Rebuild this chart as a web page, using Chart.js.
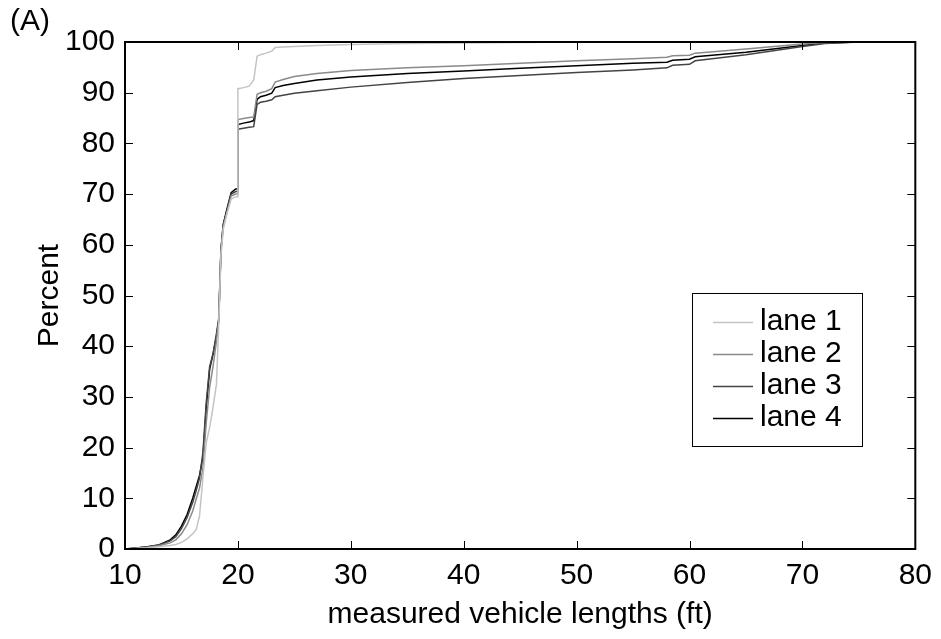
<!DOCTYPE html>
<html>
<head>
<meta charset="utf-8">
<script src="https://cdn.jsdelivr.net/npm/chart.js@4/dist/chart.umd.min.js"></script>
<style>
html,body{margin:0;padding:0;background:#fff;}
#c{display:block;}
</style>
</head>
<body>
<canvas id="c" width="941" height="639"></canvas>
<script>
// measured vehicle length grid (ft)
const lengths = [10, 11, 12, 13, 14, 14.5, 15, 15.5, 16, 16.3, 16.6, 16.9, 17.2, 17.5, 17.8, 18.1, 18.3, 18.5, 18.7, 19.0, 19.4, 19.8, 20.0, 20.0, 20.5, 21.0, 21.4, 21.7, 22.0, 22.5, 23.0, 23.3, 24, 25, 27, 30, 35, 40, 45, 50, 55, 58, 58.5, 60, 60.5, 65, 70, 72, 75, 80];
// cumulative percent per lane
const lane1 = [0, 0.1, 0.25, 0.45, 0.7, 0.9, 1.3, 2.0, 3.0, 3.8, 6.5, 14, 21, 24, 28, 32.5, 44, 58, 63, 66, 69, 69.5, 69.5, 90.8, 91.0, 91.3, 92.5, 97.2, 97.5, 97.8, 98.2, 98.9, 99.0, 99.1, 99.3, 99.5, 99.7, 99.8, 99.9, 100, 100, 100, 100, 100, 100, 100, 100, 100, 100, 100];
const lane2 = [0, 0.15, 0.35, 0.65, 1.2, 1.8, 3.0, 4.8, 7.5, 9.8, 12, 16, 25, 32, 36, 41, 45, 58.5, 63.5, 66, 69.6, 70, 70, 84.7, 84.9, 85.1, 85.2, 89.7, 90.0, 90.3, 90.8, 92.1, 92.6, 93.2, 93.8, 94.4, 94.9, 95.3, 95.8, 96.3, 96.7, 97.0, 97.3, 97.4, 97.8, 98.6, 99.6, 99.9, 100, 100];
const lane3 = [0, 0.2, 0.45, 0.8, 1.6, 2.4, 4.0, 6.2, 9.2, 11.5, 14, 19, 29, 36, 38.5, 42.5, 45.5, 59, 64, 66.5, 70, 70.5, 70.5, 82.8, 83.0, 83.2, 83.3, 87.7, 88.1, 88.3, 88.6, 89.2, 89.5, 89.9, 90.4, 91.1, 92.0, 92.8, 93.4, 94.0, 94.5, 94.9, 95.4, 95.6, 96.3, 97.5, 99.1, 99.7, 100, 100];
const lane4 = [0, 0.2, 0.45, 0.8, 1.8, 2.8, 4.5, 6.8, 10, 12.3, 14.5, 18, 28, 35.5, 38.5, 42, 45, 59, 64, 66.8, 70.3, 71, 71, 83.7, 84.0, 84.2, 84.5, 88.7, 89.2, 89.5, 89.9, 91.0, 91.4, 91.8, 92.5, 93.1, 93.8, 94.3, 94.8, 95.3, 95.8, 96.0, 96.4, 96.6, 97.1, 98.0, 99.3, 99.8, 100, 100];
const laneNames = ['lane 1', 'lane 2', 'lane 3', 'lane 4'];
const xTicks = [10, 20, 30, 40, 50, 60, 70, 80];
const yTicks = [0, 10, 20, 30, 40, 50, 60, 70, 80, 90, 100];
const xTitle = 'measured vehicle lengths (ft)';
const yTitle = 'Percent';
const panelLabel = '(A)';

const laneColors = ['#c4c4c4', '#8a8a8a', '#444444', '#000000'];
const FONT = '"Liberation Sans", Arial, Helvetica, sans-serif';
const FS = 30;

const series = [lane1, lane2, lane3, lane4];
const datasets = series.map((vals, i) => ({
  label: laneNames[i],
  data: vals.map((v, k) => ({x: lengths[k], y: v})),
  borderColor: laneColors[i],
  borderWidth: 1.5,
  pointRadius: 0,
  tension: 0,
  fill: false
}));

const decor = {
  id: 'decor',
  afterDraw(chart) {
    const {ctx, chartArea: {left, right, top, bottom}, scales: {x, y}} = chart;
    ctx.save();
    ctx.strokeStyle = '#000';
    ctx.lineWidth = 1;
    const TL = 8;
    ctx.beginPath();
    xTicks.forEach(v => {
      const px = Math.round(x.getPixelForValue(v)) + 0.5;
      ctx.moveTo(px, bottom); ctx.lineTo(px, bottom - TL);
      ctx.moveTo(px, top); ctx.lineTo(px, top + TL);
    });
    yTicks.forEach(v => {
      const py = Math.round(y.getPixelForValue(v)) + 0.5;
      ctx.moveTo(left, py); ctx.lineTo(left + TL, py);
      ctx.moveTo(right, py); ctx.lineTo(right - TL, py);
    });
    ctx.stroke();
    // box
    ctx.lineWidth = 2;
    ctx.strokeRect(left, top, right - left, bottom - top);

    // titles
    ctx.fillStyle = '#000';
    ctx.font = FS + 'px ' + FONT;
    ctx.textAlign = 'center';
    ctx.textBaseline = 'middle';
    ctx.fillText(xTitle, (left + right) / 2, 615);
    ctx.save();
    ctx.translate(50, (top + bottom) / 2);
    ctx.rotate(-Math.PI / 2);
    ctx.fillText(yTitle, 0, 0);
    ctx.restore();
    ctx.textAlign = 'left';
    ctx.fillText(panelLabel, 10, 22);

    // legend
    const lx = 692, ly = 293, lw = 170, lh = 153;
    ctx.fillStyle = '#fff';
    ctx.fillRect(lx, ly, lw, lh);
    ctx.lineWidth = 1;
    ctx.strokeStyle = '#000';
    ctx.strokeRect(lx + 0.5, ly + 0.5, lw, lh);
    const rows = [322, 354, 386, 418];
    chart.data.datasets.forEach((ds, i) => {
      const ry = rows[i];
      ctx.strokeStyle = ds.borderColor;
      ctx.lineWidth = 1.5;
      ctx.beginPath();
      ctx.moveTo(713, ry + 0.5); ctx.lineTo(753, ry + 0.5);
      ctx.stroke();
      ctx.fillStyle = '#000';
      ctx.textAlign = 'left';
      ctx.textBaseline = 'middle';
      ctx.fillText(ds.label, 760, ry);
    });
    ctx.restore();
  }
};

new Chart(document.getElementById('c'), {
  type: 'line',
  data: {datasets},
  options: {
    responsive: false,
    animation: false,
    devicePixelRatio: 1,
    layout: {padding: {left: 0, right: 20, top: 42, bottom: 0}},
    plugins: {legend: {display: false}, tooltip: {enabled: false}},
    scales: {
      x: {
        type: 'linear', min: 10, max: 80,
        afterBuildTicks: s => { s.ticks = xTicks.map(v => ({value: v})); },
        afterFit: s => { s.height = 90; },
        grid: {display: false, drawTicks: false},
        border: {display: false},
        ticks: {color: '#000', font: {family: FONT, size: FS}, padding: 9, maxRotation: 0, autoSkip: false}
      },
      y: {
        type: 'linear', min: 0, max: 100,
        afterBuildTicks: s => { s.ticks = yTicks.map(v => ({value: v})); },
        afterFit: s => { s.width = 125; },
        grid: {display: false, drawTicks: false},
        border: {display: false},
        ticks: {color: '#000', font: {family: FONT, size: FS}, padding: 10, autoSkip: false}
      }
    }
  },
  plugins: [decor]
});
</script>
</body>
</html>
